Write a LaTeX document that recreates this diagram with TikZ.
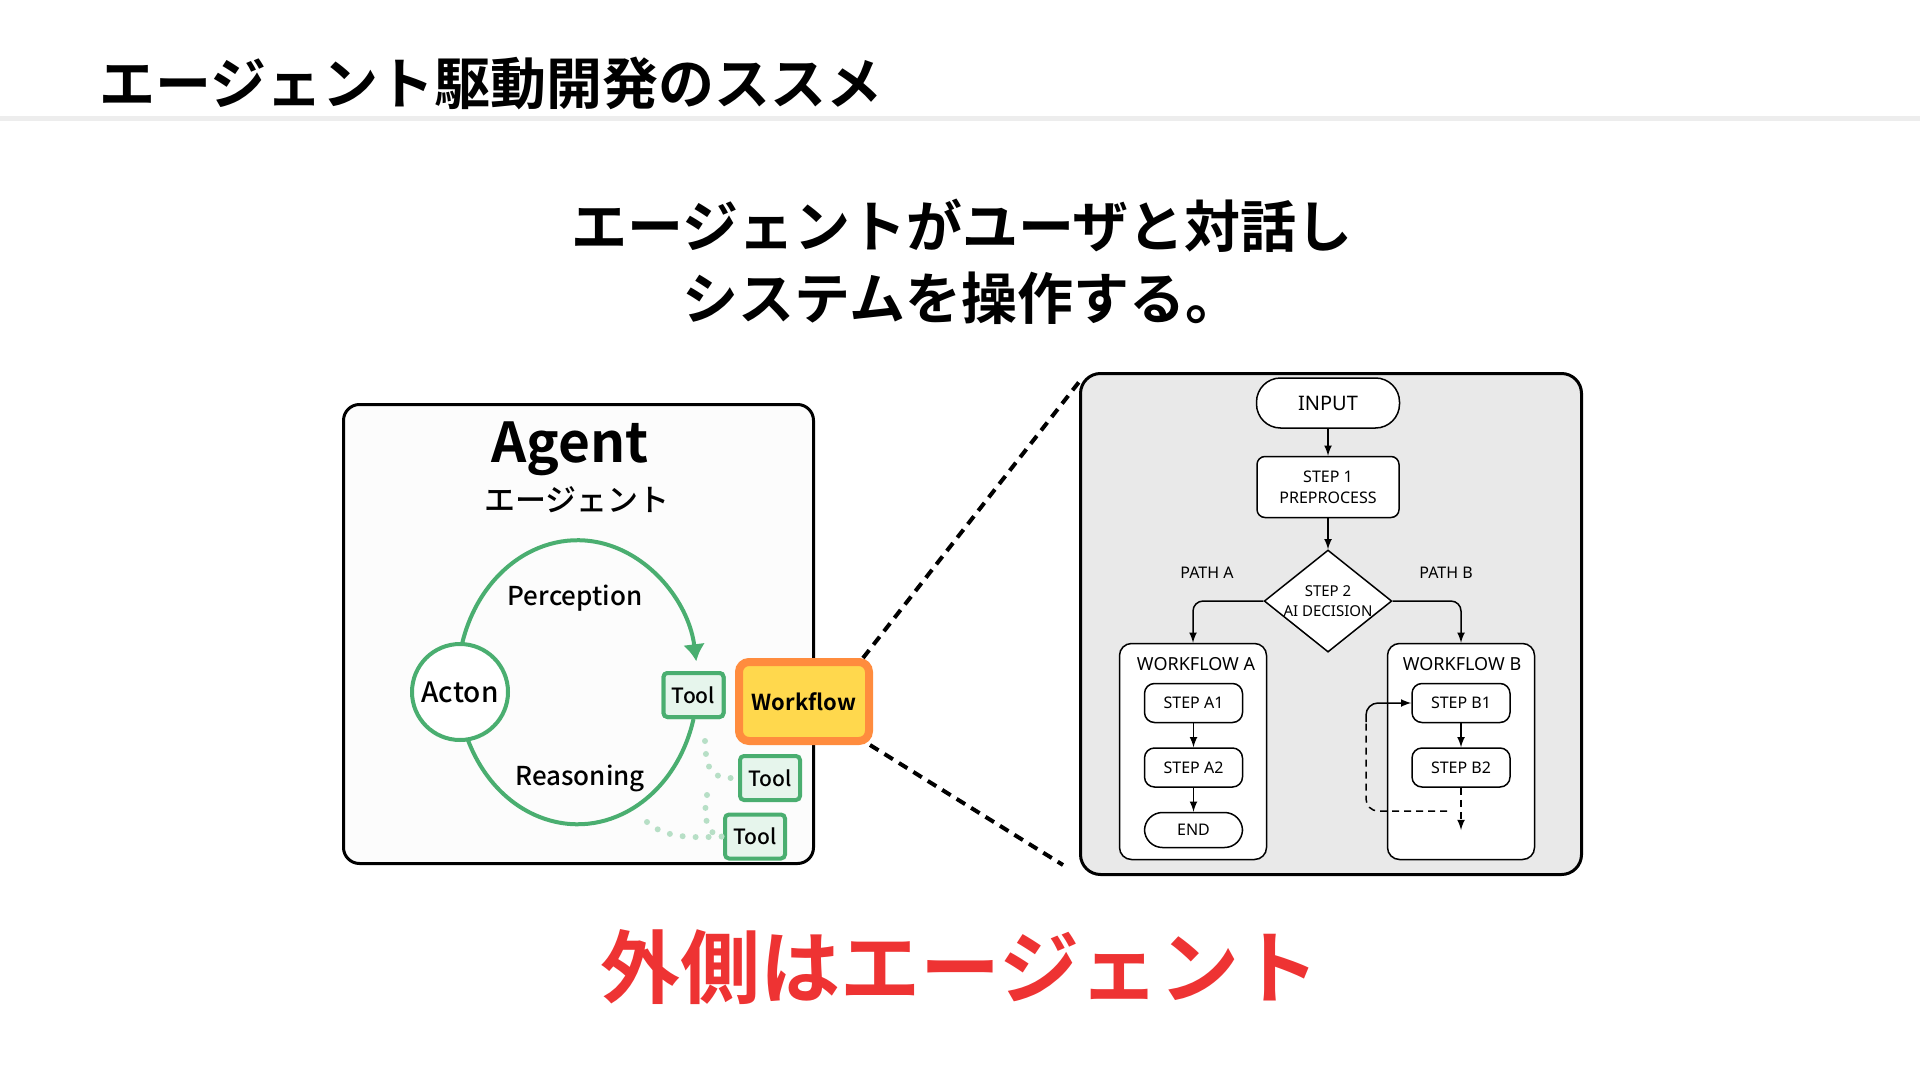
\documentclass[tikz,border=0pt]{standalone}
\usepackage{fontspec}
\setmainfont{Noto Sans CJK JP}[BoldFont={* Bold}]
\newfontfamily\jpmedium{Noto Sans CJK JP}[UprightFont={* Medium},BoldFont={* Bold}]
\newfontfamily\flussfont{Noto Sans}
\usetikzlibrary{shapes.geometric,positioning,arrows.meta}

\definecolor{gruen}{RGB}{74,174,112}
\definecolor{hellgruen}{RGB}{230,245,236}
\definecolor{wforange}{RGB}{255,140,62}
\definecolor{gelb}{RGB}{255,216,77}
\definecolor{grau}{RGB}{233,233,233}
\definecolor{rot}{RGB}{238,51,51}

\begin{document}
\begin{tikzpicture}[
    x=0.5pt, y=-0.5pt,
    font=\jpmedium,
    >=latex % Pfeilspitzen
    ]
    \useasboundingbox (0,0) rectangle (1920,1080);

    \tikzset{
        Rahmen/.style={draw, line width=1.5pt, rounded corners=#1},
        Rahmen/.default=8pt,
        Werkzeug/.style={draw=gruen, fill=hellgruen, line width=2pt, rounded corners=2pt,
            minimum width=30pt, minimum height=22pt, inner sep=0pt,
            font=\jpmedium\fontsize{10.5}{12}\selectfont},
        Kasten/.style={draw, fill=white, line width=0.75pt, rounded corners=#1, inner sep=0pt,
            align=center, font=\flussfont\fontsize{8}{10.5}\selectfont},
        Kasten/.default=5pt,
        Pfeil/.style={line width=0.75pt, ->},
        Punkte/.style={gruen!40, line width=3pt, line cap=round, dash pattern=on 0pt off 6.5pt},
        Strich/.style={line width=2pt, dash pattern=on 5pt off 3.5pt},
        Etikett/.style={font=\flussfont\fontsize{8}{9}\selectfont}
    }

    % Kopf
    \node[anchor=west, font=\rmfamily\bfseries\fontsize{28}{30}\selectfont] (titel) at (92,83)
        {エージェント駆動開発のススメ};
    \draw[line width=2.5pt, black!7] (0,119) -- (1920,119);

    \node[align=center, font=\rmfamily\bfseries\fontsize{28}{36}\selectfont] (unter) at (962,262)
        {エージェントがユーザと対話し\\システムを操作する。};

    \node[text=rot, font=\rmfamily\bfseries\fontsize{40}{44}\selectfont] (fazit) at (960,967)
        {外側はエージェント};

    % Rahmen
    \node[Rahmen, fill=black!1, minimum width=235pt, minimum height=229.5pt] (agentbox) at (578.5,634) {};
    \node[Rahmen=10pt, fill=grau, minimum width=250.5pt, minimum height=250.5pt] (panel) at (1331,624) {};

    % Agent
    \node[anchor=base, font=\rmfamily\bfseries\fontsize{27.5}{30}\selectfont] (agent) at (570,462) {Agent};
    \node[font=\jpmedium\fontsize{15.5}{16}\selectfont] (agentjp) at (577,500) {エージェント};

    \coordinate (p1) at (705,741);
    \coordinate (p2) at (707,795);
    \coordinate (p3) at (647,822);

    \node[Werkzeug] (tool1) at (693.5,695) {Tool};
    \node[Werkzeug] (tool2) at (770,778) {Tool};
    \node[Werkzeug] (tool3) at (755,836.5) {Tool};

    \draw[Punkte] (p1) .. controls (706,772) and (712,779) .. (tool2.west);
    \draw[Punkte] (p2) .. controls (703,815) and (706,836) .. (tool3.west);
    \draw[Punkte] (p3) .. controls (665,838) and (690,838) .. (tool3.west);

    \draw[gruen, line width=2pt, -{Latex[length=8.5pt,width=11pt]}]
        (tool1.south) arc[start angle=15, end angle=351.5, x radius=120, y radius=142];
    \node[Werkzeug] at (tool1) {Tool};

    \node[circle, draw=gruen, line width=2pt, fill=white, minimum size=48pt, inner sep=0pt,
        font=\jpmedium\fontsize{14}{15}\selectfont] (acton) at (460,692) {Acton};
    \node[font=\jpmedium\fontsize{13}{14}\selectfont] (perception) at (575,598) {Perception};
    \node[font=\jpmedium\fontsize{13}{14}\selectfont] (reasoning) at (580,778) {Reasoning};

    \node[draw=wforange, fill=gelb, line width=4pt, rounded corners=5pt,
        minimum width=65pt, minimum height=39.5pt,
        font=\rmfamily\bfseries\fontsize{11}{12}\selectfont] (workflow) at (804,701.5) {Workflow};

    \draw[Strich] ([xshift=-5pt]workflow.north east) -- ([yshift=-5pt]panel.north west);
    \draw[Strich] ([xshift=-1.5pt]workflow.south east) -- ([xshift=-8pt,yshift=5.5pt]panel.south west);

    % Ablauf
    \node[Kasten=12pt, minimum width=71.5pt, minimum height=25pt,
        font=\flussfont\fontsize{10}{11}\selectfont] (input) at (1328,403) {INPUT};
    \node[Kasten=4pt, minimum width=71pt, minimum height=30.5pt, below=13.5pt of input] (step1)
        {STEP 1\\PREPROCESS};
    \node[draw, fill=white, diamond, shape aspect=1.25, line width=0.75pt, inner sep=0pt,
        minimum width=62.5pt, minimum height=50pt, align=center,
        font=\flussfont\fontsize{7.5}{10}\selectfont, below=15.5pt of step1] (step2)
        {STEP 2\\AI DECISION};

    \node[Etikett] (pathA) at (1207,573) {PATH A};
    \node[Etikett] (pathB) at (1446,573) {PATH B};

    \node[Kasten=6pt, minimum width=73.5pt, minimum height=108pt] (wfA) at (1193,751.5) {};
    \node[Kasten=6pt, minimum width=73.5pt, minimum height=108pt] (wfB) at (1461,751.5) {};
    \node[font=\flussfont\fontsize{9}{10}\selectfont] (wfAtitel) at (1196,664) {WORKFLOW A};
    \node[font=\flussfont\fontsize{9}{10}\selectfont] (wfBtitel) at (1462,664) {WORKFLOW B};

    \node[Kasten, minimum width=49pt, minimum height=19.5pt] (a1) at (1193.5,703) {STEP A1};
    \node[Kasten, minimum width=49pt, minimum height=19.5pt, below=12pt of a1] (a2) {STEP A2};
    \node[Kasten=9pt, minimum width=49pt, minimum height=17.5pt, below=12pt of a2] (ende) {END};

    \node[Kasten, minimum width=49pt, minimum height=19.5pt] (b1) at (1461,703) {STEP B1};
    \node[Kasten, minimum width=49pt, minimum height=19.5pt, below=12pt of b1] (b2) {STEP B2};

    \coordinate (bEnde) at (1461,830);
    \coordinate (schleife) at (1447,811);
    \coordinate (knick) at (1366,722);

    % Verbindungen
    \draw[Pfeil] (input) -- (step1);
    \draw[Pfeil] (step1) -- (step2);
    \draw[Pfeil, rounded corners=5pt] (step2.west) -| (wfA.north);
    \draw[Pfeil, rounded corners=5pt] (step2.east) -| (wfB.north);
    \draw[Pfeil] (a1) -- (a2);
    \draw[Pfeil] (a2) -- (ende);
    \draw[Pfeil] (b1) -- (b2);
    \draw[Pfeil, dash pattern=on 3.5pt off 2.5pt] (b2) -- (bEnde);
    \draw[line width=0.75pt, dash pattern=on 3.5pt off 2.5pt, rounded corners=6pt] (schleife) -| (knick);
    \draw[Pfeil, rounded corners=6pt] (knick) |- (b1);
\end{tikzpicture}
\end{document}
